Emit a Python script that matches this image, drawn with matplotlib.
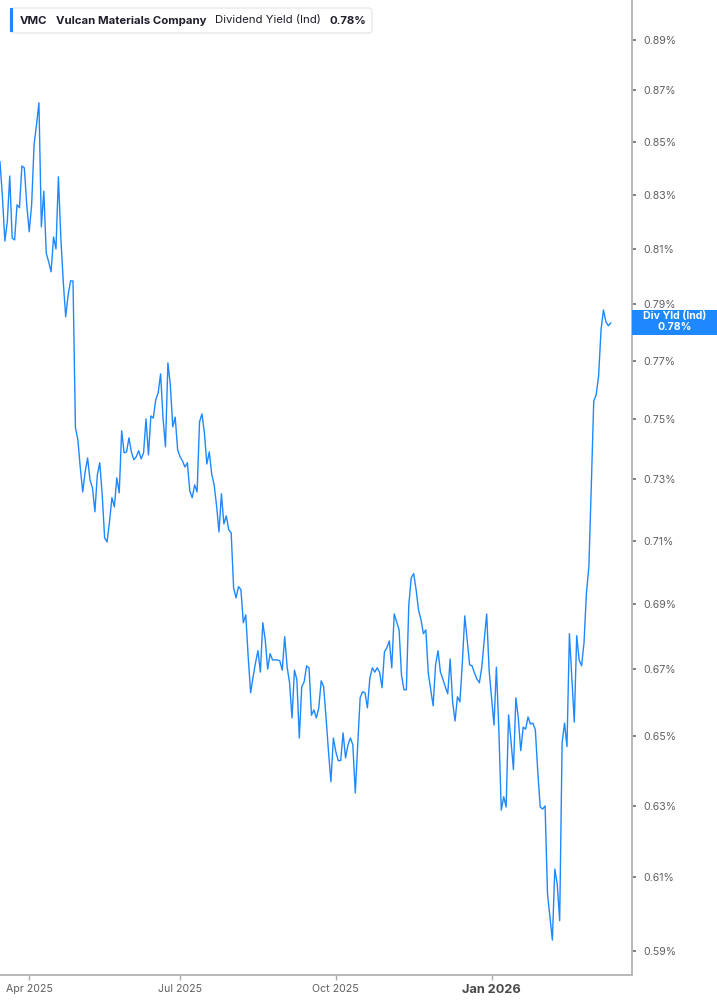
import numpy as np
import matplotlib
matplotlib.use("Agg")
import matplotlib.pyplot as plt
from matplotlib.patches import FancyBboxPatch, Rectangle
from matplotlib.ticker import FixedLocator, NullLocator

plt.rcParams['font.family'] = ['Inter', 'DejaVu Sans']

# ---------------- data ----------------
ticker_symbol = "VMC"
company_name = "Vulcan Materials Company"
metric_name = "Dividend Yield (Ind)"
badge_name = "Div Yld (Ind)"

start_date = "2025-03-14"
market_holidays = ["2025-04-18", "2025-05-26", "2025-06-19", "2025-07-04",
                   "2025-09-01", "2025-11-27", "2025-12-25", "2026-01-01",
                   "2026-01-19", "2026-02-16"]

yield_pct = [
    0.8424, 0.8291, 0.8128, 0.8199, 0.8370, 0.8139, 0.8132, 0.8262, 0.8251, 0.8408,
    0.8401, 0.8262, 0.8162, 0.8262, 0.8488, 0.8566, 0.8651, 0.8180, 0.8313, 0.8084,
    0.8052, 0.8016, 0.8143, 0.8099, 0.8367, 0.8139, 0.7980, 0.7855, 0.7933, 0.7983,
    0.7983, 0.7471, 0.7431, 0.7337, 0.7258, 0.7324, 0.7370, 0.7297, 0.7271, 0.7193,
    0.7314, 0.7354, 0.7248, 0.7109, 0.7096, 0.7161,
    0.7239, 0.7209, 0.7304, 0.7255, 0.7461, 0.7387, 0.7390, 0.7437, 0.7390, 0.7364,
    0.7374, 0.7394, 0.7367, 0.7387, 0.7501, 0.7380, 0.7511, 0.7504, 0.7566, 0.7590,
    0.7655, 0.7504, 0.7407, 0.7693, 0.7617, 0.7474, 0.7507, 0.7397, 0.7374, 0.7360,
    0.7340, 0.7354, 0.7261, 0.7239, 0.7281, 0.7258, 0.7491, 0.7518, 0.7454, 0.7350,
    0.7390,
    0.7317, 0.7281, 0.7213, 0.7128, 0.7252, 0.7154, 0.7180, 0.7135, 0.7125, 0.6951,
    0.6919, 0.6954, 0.6945, 0.6842, 0.6866, 0.6737, 0.6629, 0.6676, 0.6719, 0.6756,
    0.6691, 0.6842, 0.6789, 0.6700, 0.6747, 0.6728, 0.6728, 0.6728, 0.6725, 0.6697,
    0.6799, 0.6706, 0.6659, 0.6554, 0.6697, 0.6668, 0.6495, 0.6647, 0.6662, 0.6710,
    0.6704, 0.6562, 0.6578,
    0.6554, 0.6584, 0.6665, 0.6647, 0.6554, 0.6455, 0.6368, 0.6495, 0.6455, 0.6429,
    0.6429, 0.6510, 0.6437, 0.6475, 0.6495, 0.6475, 0.6336, 0.6475, 0.6614, 0.6632,
    0.6629, 0.6584, 0.6673, 0.6704, 0.6691, 0.6704, 0.6691, 0.6644, 0.6753, 0.6765,
    0.6786, 0.6704, 0.6869, 0.6845, 0.6820, 0.6682, 0.6638, 0.6638, 0.6897, 0.6982,
    0.6995, 0.6945, 0.6881,
    0.6851, 0.6808, 0.6820, 0.6688, 0.6638, 0.6590, 0.6713, 0.6756, 0.6691, 0.6670,
    0.6647, 0.6626, 0.6731, 0.6602, 0.6545, 0.6617, 0.6602, 0.6719, 0.6863, 0.6789,
    0.6713, 0.6710, 0.6688, 0.6670, 0.6659, 0.6706, 0.6789, 0.6869, 0.6697, 0.6614,
    0.6533, 0.6706, 0.6519, 0.6287, 0.6325, 0.6296, 0.6563, 0.6486, 0.6403, 0.6614,
    0.6554, 0.6458, 0.6527, 0.6521, 0.6557,
    0.6536, 0.6539, 0.6519, 0.6397, 0.6296, 0.6290, 0.6299, 0.6054, 0.5992, 0.5929,
    0.6122, 0.6081, 0.5981, 0.6481, 0.6539, 0.6470, 0.6808, 0.6673, 0.6542, 0.6802,
    0.6728, 0.6710, 0.6780, 0.6935, 0.7017, 0.7278, 0.7562, 0.7583, 0.7648, 0.7809,
    0.7879, 0.7837, 0.7823, 0.7833,
]

current_label = "0.78%"
y_tick_values = [0.59, 0.61, 0.63, 0.65, 0.67, 0.69, 0.71, 0.73, 0.75, 0.77,
                 0.79, 0.81, 0.83, 0.85, 0.87, 0.89]
x_tick_months = ["2025-04-01", "2025-07-01", "2025-10-01", "2026-01-01"]
x_tick_labels = ["Apr 2025", "Jul 2025", "Oct 2025", "Jan 2026"]

# ---------------- figure ----------------
W, H = 717, 1005
fig = plt.figure(figsize=(W / 100, H / 100), dpi=100)
fig.patch.set_facecolor("white")

ax_left, ax_right, ax_top, ax_bottom = 0.0, 631.7, 0.0, 974.7  # pixels
ax = fig.add_axes([ax_left / W, 1 - ax_bottom / H,
                   (ax_right - ax_left) / W, (ax_bottom - ax_top) / H])
ax.set_facecolor("white")

n = len(yield_pct)
dates = np.busday_offset(np.datetime64(start_date), np.arange(n),
                         roll="forward", holidays=market_holidays)
x = np.arange(n)

line_color = "#1e88ff"
ax.plot(x, yield_pct, color=line_color, lw=1.0, solid_joinstyle="round")

ax.set_yscale("log")
ax.set_ylim(0.5837, 0.9062)
ax.set_xlim(0.0, 259.6)

# y axis on right
ax.yaxis.tick_right()
ax.yaxis.set_major_locator(FixedLocator(y_tick_values))
ax.yaxis.set_minor_locator(NullLocator())
ax.set_yticklabels([f"{v:.2f}%" for v in y_tick_values])
ax.tick_params(axis="y", which="major", direction="out", length=3, width=1.3,
               color="#777777", pad=5.5, labelsize=7.6, labelcolor="#5f5f5f")

# x axis
tick_idx = [int(np.searchsorted(dates, np.datetime64(m))) for m in x_tick_months]
ax.xaxis.set_major_locator(FixedLocator(tick_idx))
ax.xaxis.set_minor_locator(NullLocator())
ax.set_xticklabels(x_tick_labels)
ax.tick_params(axis="x", which="major", direction="out", length=3.5, width=1.0,
               color="#aaaaaa", pad=3.0, labelsize=7.6, labelcolor="#5f5f5f")
for lbl in ax.get_xticklabels():
    if lbl.get_text() == "Jan 2026":
        lbl.set_fontweight("bold")
        lbl.set_fontsize(9.2)
        lbl.set_color("#4a4a4a")

for side in ("left", "top"):
    ax.spines[side].set_visible(False)
for side in ("right", "bottom"):
    ax.spines[side].set_color("#b8b8b8")
    ax.spines[side].set_linewidth(1.4)

# ---------------- value badge at right ----------------
fig.canvas.draw()
last_disp = ax.transData.transform((x[-1], yield_pct[-1]))
last_y_px_from_top = H - last_disp[1]
badge_h = 25
badge_x0 = ax_right
badge_w = W - ax_right
badge = Rectangle((badge_x0 / W, 1 - (last_y_px_from_top + badge_h / 2) / H),
                  badge_w / W, badge_h / H, transform=fig.transFigure,
                  facecolor="#1e88ff", edgecolor="none", zorder=5)
fig.add_artist(badge)
cx = (badge_x0 + W) / 2 / W
fig.text(cx, 1 - (last_y_px_from_top - 6.5) / H, badge_name, color="white",
         fontsize=7.6, fontweight="bold", ha="center", va="center", zorder=6)
fig.text(cx, 1 - (last_y_px_from_top + 4.5) / H, current_label, color="white",
         fontsize=7.6, fontweight="bold", ha="center", va="center", zorder=6)

# ---------------- header box ----------------
hx0, hx1, hy0, hy1 = 10, 372, 8, 33
hdr = FancyBboxPatch((hx0 / W, 1 - hy1 / H), (hx1 - hx0) / W, (hy1 - hy0) / H,
                     boxstyle="round,pad=0,rounding_size=0.004",
                     transform=fig.transFigure, facecolor="white",
                     edgecolor="#e4e4e4", linewidth=0.8, zorder=7)
fig.add_artist(hdr)
acc = Rectangle((hx0 / W, 1 - (hy1 - 0.5) / H), 3.2 / W, (hy1 - hy0 - 1) / H,
                transform=fig.transFigure, facecolor="#1e88ff",
                edgecolor="none", zorder=8)
fig.add_artist(acc)

ty = 1 - 20.5 / H
txt_color = "#1d1d2b"
hdr_size = 8.2
fig.text(20 / W, ty, ticker_symbol, fontsize=hdr_size, fontweight="bold",
         color=txt_color, va="center", ha="left", zorder=9)
fig.text(56 / W, ty, company_name, fontsize=hdr_size, fontweight="bold",
         color=txt_color, va="center", ha="left", zorder=9)
fig.text(215 / W, ty, metric_name, fontsize=hdr_size, fontweight="normal",
         color=txt_color, va="center", ha="left", zorder=9)
fig.text(330 / W, ty, current_label, fontsize=hdr_size, fontweight="bold",
         color=txt_color, va="center", ha="left", zorder=9)

fig.savefig("out.png", dpi=100, facecolor="white")
